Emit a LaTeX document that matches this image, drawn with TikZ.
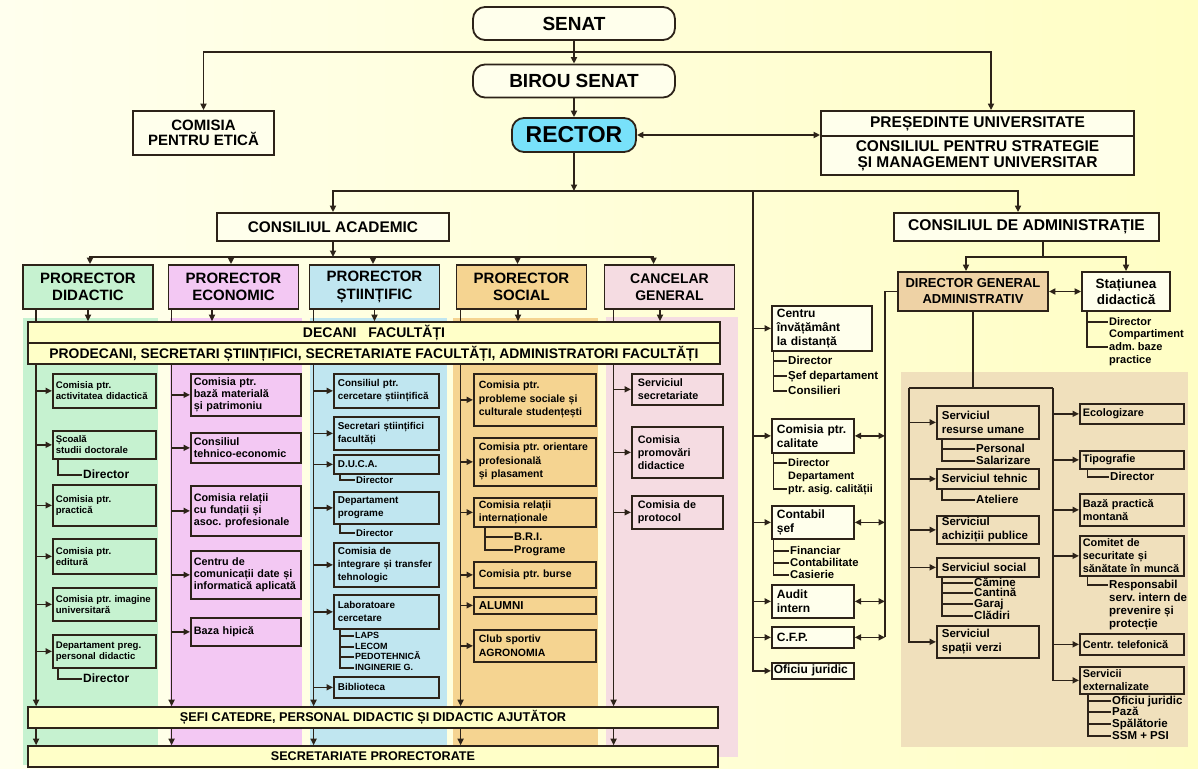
\documentclass[tikz,border=0pt]{standalone}
\usepackage{fontspec}
\setmainfont{Liberation Sans}
\usetikzlibrary{arrows.meta}
\frenchspacing

\definecolor{lc}{RGB}{45,35,25}
\definecolor{bgl}{RGB}{255,255,238}
\definecolor{bgr}{RGB}{255,254,196}
\definecolor{boxc}{RGB}{255,255,236}
\definecolor{barc}{RGB}{255,255,200}
\definecolor{gcol}{RGB}{198,242,208}
\definecolor{mcol}{RGB}{243,200,243}
\definecolor{bcol}{RGB}{192,230,240}
\definecolor{ocol}{RGB}{245,212,145}
\definecolor{pcol}{RGB}{245,220,226}
\definecolor{tcol}{RGB}{240,224,188}
\definecolor{dgac}{RGB}{238,210,165}
\definecolor{rcol}{RGB}{120,225,250}

\begin{document}
\begin{tikzpicture}[x=1pt,y=-1pt]
        \tikzstyle{every node}=[font=\bfseries]
        \tikzstyle{ln}=[draw=lc, line width=1.7pt]
        \tikzstyle{arr}=[ln, -{Triangle[length=6.5pt,width=6pt]}]
        \tikzstyle{barr}=[ln, {Triangle[length=6.5pt,width=6pt]}-{Triangle[length=6.5pt,width=6pt]}]
        \tikzstyle{rnd}=[draw=lc, line width=1.8pt, fill=boxc, rounded corners=12pt, minimum width=202pt, minimum height=33pt, inner sep=0pt, font=\bfseries\fontsize{19}{21}\selectfont]
        \tikzstyle{hd}=[draw=lc, line width=1.8pt, fill=boxc, align=center, inner sep=0pt, font=\bfseries\fontsize{15}{15}\selectfont]
        \tikzstyle{pr}=[hd, minimum width=130pt, minimum height=44pt, font=\bfseries\fontsize{15}{17.5}\selectfont]
        \tikzstyle{bar}=[draw=lc, line width=1.6pt, fill=barc, minimum width=692pt, minimum height=21pt, inner sep=0pt]
        \tikzstyle{sub}=[draw=lc, line width=1.7pt, anchor=north west, align=left, inner ysep=0pt]
        \tikzstyle{gsub}=[sub, fill=gcol, inner xsep=3pt, minimum width=103pt, text width=97pt, font=\bfseries\fontsize{9.6}{11}\selectfont]
        \tikzstyle{esub}=[sub, fill=mcol, inner xsep=3pt, minimum width=110pt, text width=104pt, font=\bfseries\fontsize{10.8}{12}\selectfont]
        \tikzstyle{ssub}=[sub, fill=bcol, inner xsep=4pt, minimum width=105pt, text width=97pt, font=\bfseries\fontsize{9.9}{13}\selectfont]
        \tikzstyle{osub}=[sub, fill=ocol, inner xsep=5pt, minimum width=122pt, text width=112pt, font=\bfseries\fontsize{10.5}{13.5}\selectfont]
        \tikzstyle{csub}=[sub, fill=pcol, inner xsep=6pt, minimum width=91pt, text width=79pt, font=\bfseries\fontsize{10.8}{13}\selectfont]
        \tikzstyle{msub}=[sub, fill=boxc, inner xsep=5pt, minimum width=82pt, text width=72pt, font=\bfseries\fontsize{12}{14}\selectfont]
        \tikzstyle{lsub}=[sub, fill=tcol, inner xsep=5pt, minimum width=102pt, text width=92pt, font=\bfseries\fontsize{11.5}{14}\selectfont]
        \tikzstyle{qsub}=[sub, fill=tcol, inner xsep=3pt, minimum width=104pt, text width=98pt, font=\bfseries\fontsize{10.9}{13}\selectfont]
        \tikzstyle{lst}=[anchor=west, inner sep=1pt, text height=8pt, text depth=2pt, font=\bfseries\fontsize{11.5}{12}\selectfont]
        \tikzstyle{lstb}=[lst, text height=6.5pt, text depth=1.5pt, font=\bfseries\fontsize{9}{10}\selectfont]

        % background and colour panels
        \shade[left color=bgl, right color=bgr] (0,0) rectangle (1198,768);
        \useasboundingbox (0,0) rectangle (1198,768);
        \fill[gcol] (23,318) rectangle (158,765);
        \fill[mcol] (170,318) rectangle (302,745);
        \fill[bcol] (310,318) rectangle (447,748);
        \fill[ocol] (453,318) rectangle (598,748);
        \fill[pcol] (606,317) rectangle (738,757);
        \fill[tcol] (901,372) rectangle (1188,747);

        % top
        \node[rnd] (senat) at (574,23.5) {SENAT};
        \node[rnd] (birou) at (574,81) {BIROU SENAT};
        \node[rnd, fill=rcol, minimum width=124pt, minimum height=34pt, font=\bfseries\fontsize{23}{25}\selectfont] (rector) at (574,135) {RECTOR};
        \node[hd, minimum width=141pt, minimum height=44pt] (etica) at (203.5,133) {COMISIA\\PENTRU ETICĂ};
        \node[hd, minimum width=313pt, minimum height=25pt, font=\bfseries\fontsize{15.5}{16}\selectfont] (pres) at (977.5,123.5) {PREȘEDINTE UNIVERSITATE};
        \node[hd, minimum width=313pt, minimum height=39pt, font=\bfseries\fontsize{15.5}{16}\selectfont] (csm) at (977.5,155.5) {CONSILIUL PENTRU STRATEGIE\\ȘI MANAGEMENT UNIVERSITAR};
        \node[hd, minimum width=232pt, minimum height=28pt, font=\bfseries\fontsize{15.4}{16}\selectfont] (cac) at (333,227) {CONSILIUL ACADEMIC};
        \node[hd, minimum width=265pt, minimum height=28pt, font=\bfseries\fontsize{15.6}{16}\selectfont] (cad) at (1026.5,227) {CONSILIUL DE ADMINISTRAȚIE};

        % prorectors
        \node[pr, fill=gcol] (pd) at (88,287) {PRORECTOR\\DIDACTIC};
        \node[pr, fill=mcol] (pe) at (233.5,287) {PRORECTOR\\ECONOMIC};
        \node[pr, fill=bcol] (ps) at (374.5,287) {PRORECTOR\\ȘTIINȚIFIC};
        \node[pr, fill=ocol] (pso) at (521.5,287) {PRORECTOR\\SOCIAL};
        \node[pr, fill=pcol, font=\bfseries\fontsize{14}{17.5}\selectfont] (pc) at (669.5,287) {CANCELAR\\GENERAL};

        % bars
        \node[bar, font=\bfseries\fontsize{14}{15}\selectfont] (dec) at (374,332.5) {DECANI~~~FACULTĂȚI};
        \node[bar, font=\bfseries\fontsize{13.9}{15}\selectfont] (pro) at (374,353.5) {PRODECANI, SECRETARI ȘTIINȚIFICI, SECRETARIATE FACULTĂȚI, ADMINISTRATORI FACULTĂȚI};
        \node[bar, minimum width=690pt, font=\bfseries\fontsize{12.7}{14}\selectfont] (sefi) at (373,717.5) {ȘEFI CATEDRE, PERSONAL DIDACTIC ȘI DIDACTIC AJUTĂTOR};
        \node[bar, minimum width=690pt, font=\bfseries\fontsize{12.6}{14}\selectfont] (sec) at (373,756.5) {SECRETARIATE PRORECTORATE};

        % didactic
        \node[gsub, minimum height=34pt] (g1) at (52,373) {Comisia ptr.\\activitatea didactică};
        \node[gsub, minimum height=28pt] (g2) at (52,430) {Școală\\studii doctorale};
        \node[gsub, minimum height=41pt] (g3) at (52,484) {Comisia ptr.\\practică};
        \node[gsub, minimum height=35pt] (g4) at (52,538) {Comisia ptr.\\editură};
        \node[gsub, minimum height=33pt] (g5) at (52,587) {Comisia ptr. imagine\\universitară};
        \node[gsub, minimum height=33pt] (g6) at (52,634) {Departament preg.\\personal didactic};
        \node[lst, font=\bfseries\fontsize{12}{12}\selectfont] (g2a) at (82,475) {Director};
        \node[lst, font=\bfseries\fontsize{12}{12}\selectfont] (g6a) at (82,679) {Director};

        % economic
        \node[esub, minimum height=42pt] (e1) at (190,373) {Comisia ptr.\\bază materială\\și patrimoniu};
        \node[esub, minimum height=30pt] (e2) at (190,432) {Consiliul\\tehnico-economic};
        \node[esub, minimum height=50pt] (e3) at (190,485) {Comisia relații\\cu fundații și\\asoc. profesionale};
        \node[esub, minimum height=48pt] (e4) at (190,550) {Centru de\\comunicații date și\\informatică aplicată};
        \node[esub, minimum height=28pt] (e5) at (190,617) {Baza hipică};

        % stiintific
        \node[ssub, minimum height=34pt] (s1) at (333,373) {Consiliul ptr.\\cercetare științifică};
        \node[ssub, minimum height=33pt] (s2) at (333,416) {Secretari științifici\\facultăți};
        \node[ssub, minimum height=19pt] (s3) at (333,454) {D.U.C.A.};
        \node[ssub, minimum height=32pt] (s4) at (333,491) {Departament\\programe};
        \node[ssub, minimum height=44pt] (s5) at (333,542) {Comisia de\\integrare și transfer\\tehnologic};
        \node[ssub, minimum height=34pt] (s6) at (333,594) {Laboratoare\\cercetare};
        \node[ssub, minimum height=21pt] (s7) at (333,676) {Biblioteca};
        \node[lst, font=\bfseries\fontsize{9.6}{10}\selectfont] (s3a) at (355,480) {Director};
        \node[lst, font=\bfseries\fontsize{9.6}{10}\selectfont] (s4a) at (355,533) {Director};
        \node[lstb] (s6a) at (354,636) {LAPS};
        \node[lstb] (s6b) at (354,647) {LECOM};
        \node[lstb] (s6c) at (354,657) {PEDOTEHNICĂ};
        \node[lstb] (s6d) at (354,668) {INGINERIE G.};

        % social
        \node[osub, minimum height=52pt] (o1) at (473,373) {Comisia ptr.\\probleme sociale și\\culturale studențești};
        \node[osub, minimum height=48pt] (o2) at (473,437) {Comisia ptr. orientare\\profesională\\și plasament};
        \node[osub, minimum height=29pt] (o3) at (473,497) {Comisia relații\\internaționale};
        \node[osub, minimum height=26pt] (o4) at (473,561) {Comisia ptr. burse};
        \node[osub, minimum height=17pt, font=\bfseries\fontsize{11.5}{12}\selectfont] (o5) at (473,596) {ALUMNI};
        \node[osub, minimum height=32pt] (o6) at (473,629) {Club sportiv\\AGRONOMIA};
        \node[lst, font=\bfseries\fontsize{11}{12}\selectfont] (o3a) at (513,537) {B.R.I.};
        \node[lst, font=\bfseries\fontsize{11}{12}\selectfont] (o3b) at (513,550) {Programe};

        % cancelar
        \node[csub, minimum height=31pt] (c1) at (631,373) {Serviciul\\secretariate};
        \node[csub, minimum height=51pt] (c2) at (631,426) {Comisia\\promovări\\didactice};
        \node[csub, minimum height=33pt] (c3) at (631,495) {Comisia de\\protocol};

        % middle column
        \node[msub, minimum width=100pt, text width=90pt, minimum height=45pt] (m1) at (771,305) {Centru\\învățământ\\la distanță};
        \node[msub, minimum height=34pt] (m2) at (771,418) {Comisia ptr.\\calitate};
        \node[msub, minimum height=33pt] (m3) at (771,505) {Contabil\\șef};
        \node[msub, minimum height=33pt] (m4) at (771,584) {Audit\\intern};
        \node[msub, minimum height=21pt] (m5) at (771,626) {C.F.P.};
        \node[msub, inner xsep=2pt, text width=78pt, minimum height=16pt] (m6) at (771,662) {Oficiu juridic};
        \node[lst] (m1a) at (787,361) {Director};
        \node[lst] (m1b) at (787,376) {Șef departament};
        \node[lst] (m1c) at (787,391) {Consilieri};
        \node[lst, font=\bfseries\fontsize{10.8}{12}\selectfont] (m2a) at (787,463) {Director};
        \node[lst, font=\bfseries\fontsize{10.8}{12}\selectfont] (m2b) at (787,476) {Departament};
        \node[lst, font=\bfseries\fontsize{10.8}{12}\selectfont] (m2c) at (787,489) {ptr. asig. calității};
        \node[lst, font=\bfseries\fontsize{11.3}{12}\selectfont] (m3a) at (789,551) {Financiar};
        \node[lst, font=\bfseries\fontsize{11.3}{12}\selectfont] (m3b) at (789,563) {Contabilitate};
        \node[lst, font=\bfseries\fontsize{11.3}{12}\selectfont] (m3c) at (789,575) {Casierie};

        % administration
        \node[hd, fill=dgac, minimum width=150pt, minimum height=39pt, font=\bfseries\fontsize{13}{16}\selectfont] (dga) at (973,291.5) {DIRECTOR GENERAL\\ADMINISTRATIV};
        \node[hd, minimum width=88pt, minimum height=39pt, font=\bfseries\fontsize{13.5}{16}\selectfont] (sta) at (1126,291.5) {Stațiunea\\didactică};
        \node[lst, font=\bfseries\fontsize{11}{12}\selectfont] (st1) at (1108,322) {Director};
        \node[lst, font=\bfseries\fontsize{11}{12}\selectfont] (st2) at (1108,334) {Compartiment};
        \node[lst, font=\bfseries\fontsize{11}{12}\selectfont] (st3) at (1108,347) {adm. baze};
        \node[lst, font=\bfseries\fontsize{11}{12}\selectfont] (st4) at (1108,360) {practice};

        \node[lsub, minimum height=33pt] (r1) at (936,405) {Serviciul\\resurse umane};
        \node[lsub, minimum height=20pt] (r2) at (936,468) {Serviciul tehnic};
        \node[lsub, minimum height=28pt] (r3) at (936,515) {Serviciul\\achiziții publice};
        \node[lsub, minimum height=19pt] (r4) at (936,557) {Serviciul social};
        \node[lsub, minimum height=32pt] (r5) at (936,625) {Serviciul\\spații verzi};
        \node[lst] (r1a) at (975,449) {Personal};
        \node[lst] (r1b) at (975,461) {Salarizare};
        \node[lst] (r2a) at (975,500) {Ateliere};
        \node[lst] (r4a) at (973,583) {Cămine};
        \node[lst] (r4b) at (973,593) {Cantină};
        \node[lst] (r4c) at (973,604) {Garaj};
        \node[lst] (r4d) at (973,616) {Clădiri};

        \node[qsub, minimum height=20pt] (q1) at (1079,403) {Ecologizare};
        \node[qsub, minimum height=18pt] (q2) at (1079,450) {Tipografie};
        \node[qsub, minimum height=32pt] (q3) at (1079,493) {Bază practică\\montană};
        \node[qsub, minimum height=40pt] (q4) at (1079,535) {Comitet de\\securitate și\\sănătate în muncă};
        \node[qsub, minimum height=21pt] (q5) at (1079,633) {Centr. telefonică};
        \node[qsub, minimum height=27pt] (q6) at (1079,666) {Servicii\\externalizate};
        \node[lst] (q2a) at (1109,477) {Director};
        \node[lst] (q4a) at (1108,585) {Responsabil};
        \node[lst] (q4b) at (1108,598) {serv. intern de};
        \node[lst] (q4c) at (1108,611) {prevenire și};
        \node[lst] (q4d) at (1108,624) {protecție};
        \node[lst] (q6a) at (1111,701) {Oficiu juridic};
        \node[lst] (q6b) at (1111,712) {Pază};
        \node[lst] (q6c) at (1111,724) {Spălătorie};
        \node[lst] (q6d) at (1111,736) {SSM + PSI};

        % connectors, top
        \coordinate (sn) at (574,52);
        \coordinate (rj) at (574,191);
        \coordinate (cl) at (753,191);
        \coordinate (cj) at (333,257);
        \draw[arr] (senat) -- (birou);
        \draw[arr] (sn) -| (etica.north);
        \draw[arr] (sn) -| ([xshift=13.5pt]pres.north);
        \draw[arr] (birou) -- (rector);
        \draw[barr] (rector.east) -- (rector.east -| pres.west);
        \draw[arr] (rector) -- (rj);
        \draw[arr] (rj) -| (cac.north);
        \draw[arr] (rj) -| ([xshift=-8.5pt]cad.north);
        \draw[arr] (cac) -- (cj);
        \draw[arr] (cj) -| ([xshift=2pt]pd.north);
        \draw[arr] (cj) -| ([xshift=-2.5pt]pe.north);
        \draw[arr] (cj) -| ([xshift=-1.5pt]ps.north);
        \draw[arr] (cj) -| ([xshift=-4pt]pso.north);
        \draw[arr] (cj) -| ([xshift=-16pt]pc.north);

        % connectors, prorector columns
        \draw[arr] (pd.south) -- (pd.south |- dec.north);
        \draw[arr] ([xshift=-21.5pt]pe.south) -- ([xshift=-21.5pt]pe.south |- dec.north);
        \draw[arr] (ps.south) -- (ps.south |- dec.north);
        \draw[arr] ([xshift=-3.5pt]pso.south) -- ([xshift=-3.5pt]pso.south |- dec.north);
        \draw[arr] ([xshift=-9.5pt]pc.south) -- ([xshift=-9.5pt]pc.south |- dec.north);
        \coordinate (gl) at ([xshift=14pt]pd.south west);
        \coordinate (el) at ([xshift=4pt]pe.south west);
        \coordinate (sl) at ([xshift=5pt]ps.south west);
        \coordinate (ol) at ([xshift=5pt]pso.south west);
        \coordinate (kl) at ([xshift=10pt]pc.south west);
        \foreach \c in {gl,el,sl,ol,kl} {
            \draw[ln] (\c) -- (\c |- dec.north);
            \draw[arr] (\c |- pro.south) -- (\c |- sefi.north);
            \draw[arr] (\c |- sefi.south) -- (\c |- sec.north);
        }
        \foreach \i in {1,...,6} \draw[arr] (gl |- g\i.west) -- (g\i.west);
        \foreach \i in {1,...,5} \draw[arr] (el |- e\i.west) -- (e\i.west);
        \foreach \i in {1,...,7} \draw[arr] (sl |- s\i.west) -- (s\i.west);
        \foreach \i in {1,...,6} \draw[arr] (ol |- o\i.west) -- (o\i.west);
        \foreach \i in {1,...,3} \draw[arr] (kl |- c\i.west) -- (c\i.west);
        \draw[ln] ([xshift=6pt]g2.south west) |- (g2a.west);
        \draw[ln] ([xshift=6pt]g6.south west) |- (g6a.west);
        \draw[ln] ([xshift=7pt]s3.south west) |- (s3a.west);
        \draw[ln] ([xshift=7pt]s4.south west) |- (s4a.west);
        \draw[ln] ([xshift=7pt]s6.south west) |- (s6a.west) ([xshift=7pt]s6.south west) |- (s6b.west)
                  ([xshift=7pt]s6.south west) |- (s6c.west) ([xshift=7pt]s6.south west) |- (s6d.west);
        \draw[ln] ([xshift=12pt]o3.south west) |- (o3a.west) ([xshift=12pt]o3.south west) |- (o3b.west);

        % connectors, middle column
        \coordinate (rl) at (885,291.5);
        \draw[arr] (cl) |- (m6.west);
        \foreach \i in {1,...,5} \draw[arr] (cl |- m\i.west) -- (m\i.west);
        \draw[ln] (dga.west) -- (rl) -- (rl |- m5.east);
        \foreach \i in {2,...,5} \draw[barr] (m\i.east) -- (m\i.east -| rl);
        \draw[ln] ([xshift=2.5pt]m1.south west) |- (m1a.west) ([xshift=2.5pt]m1.south west) |- (m1b.west)
                  ([xshift=2.5pt]m1.south west) |- (m1c.west);
        \draw[ln] ([xshift=2.5pt]m2.south west) |- (m2a.west) ([xshift=2.5pt]m2.south west) |- (m2c.west);
        \draw[ln] ([xshift=2.5pt]m3.south west) |- (m3a.west) ([xshift=2.5pt]m3.south west) |- (m3b.west)
                  ([xshift=2.5pt]m3.south west) |- (m3c.west);

        % connectors, administration
        \coordinate (a1) at (1043,257);
        \coordinate (bl) at (909,388);
        \coordinate (br) at (1053,388);
        \draw[ln] (cad.south -| a1) -- (a1);
        \draw[arr] (a1) -| ([xshift=-7pt]dga.north);
        \draw[arr] (a1) -| (sta.north);
        \draw[barr] (dga) -- (sta);
        \draw[ln] ([xshift=6pt]sta.south west) |- (st1.west) ([xshift=6pt]sta.south west) |- (st3.west);
        \draw[ln] (dga.south) -- (dga.south |- bl);
        \draw[ln] (bl) -- (br);
        \draw[arr] (bl) |- (r5.west);
        \draw[arr] (br) |- (q6.west);
        \foreach \i in {1,...,4} \draw[arr] (bl |- r\i.west) -- (r\i.west);
        \foreach \i in {1,...,5} \draw[arr] (br |- q\i.west) -- (q\i.west);
        \draw[ln] ([xshift=6pt]r1.south west) |- (r1a.west) ([xshift=6pt]r1.south west) |- (r1b.west);
        \draw[ln] ([xshift=6pt]r2.south west) |- (r2a.west);
        \draw[ln] ([xshift=6pt]r4.south west) |- (r4a.west) ([xshift=6pt]r4.south west) |- (r4b.west)
                  ([xshift=6pt]r4.south west) |- (r4c.west) ([xshift=6pt]r4.south west) |- (r4d.west);
        \draw[ln] ([xshift=8.5pt]q2.south west) |- (q2a.west);
        \draw[ln] ([xshift=8.5pt]q4.south west) |- (q4a.west);
        \draw[ln] ([xshift=9pt]q6.south west) |- (q6a.west) ([xshift=9pt]q6.south west) |- (q6b.west)
                  ([xshift=9pt]q6.south west) |- (q6c.west) ([xshift=9pt]q6.south west) |- (q6d.west);
\end{tikzpicture}
\end{document}
